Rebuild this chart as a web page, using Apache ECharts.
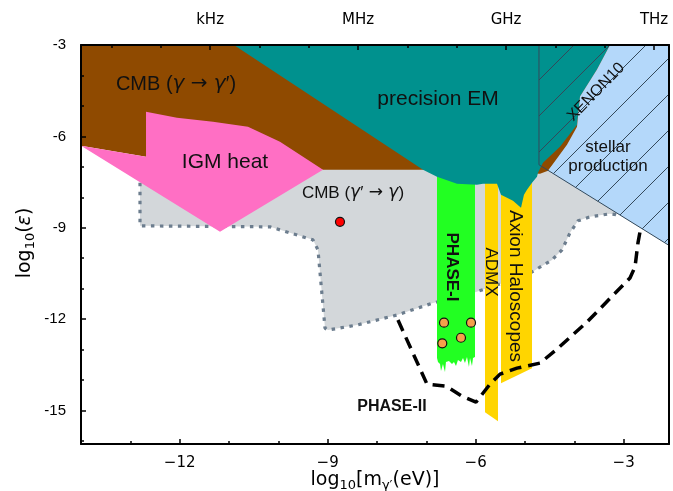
<!DOCTYPE html>
<html><head><meta charset="utf-8">
<script src="https://cdn.jsdelivr.net/npm/echarts@6/dist/echarts.min.js"></script>
<style>html,body{margin:0;padding:0;background:#fff}#c{width:673px;height:491px}</style>
</head><body><div id="c"></div>
<script>
// ---------- axes ----------
const X_RANGE = [-14, -2.08];
const Y_RANGE = [-16.1, -3];
const xMajorTicks = [-12, -9, -6, -3];
const xMinorTicks = [-13, -11, -10, -8, -7, -5, -4];
const yMajorTicks = [-3, -6, -9, -12, -15];
const yMinorTicks = [-4, -5, -7, -8, -10, -11, -13, -14, -16];
const freqTicks = [-11.383, -8.383, -5.383, -2.383];
const freqLabels = ['kHz', 'MHz', 'GHz', 'THz'];
const freqMinorTicks = [-13.383, -12.383, -10.383, -9.383, -7.383, -6.383, -4.383, -3.383];

// ---------- regions (log10 m [eV], log10 eps) ----------
const cmbDistortion = [[-14,-3],[-3.2,-3],[-3.45,-3.8],[-3.8,-4.7],[-3.88,-5.68],[-4.08,-6.27],[-4.533,-7.128],[-4.695,-7.227],[-7.067,-7.095],[-9.094,-7.095],[-12.682,-6.668],[-14,-6.306]];
const igmHeat = [[-14,-6.306],[-12.682,-6.668],[-12.682,-5.188],[-12.054,-5.385],[-11.324,-5.516],[-10.615,-5.681],[-9.966,-6.174],[-9.094,-7.095],[-11.182,-9.135]];
const precisionEM = [[-10.9,-3],[-3.276,-3],[-3.54,-3.806],[-3.884,-4.694],[-3.945,-5.615],[-4.290,-6.339],[-4.635,-6.865],[-4.736,-7.194],[-4.756,-7.326],[-4.857,-7.523],[-4.959,-7.753],[-5.020,-7.918],[-5.080,-8.345],[-5.243,-8.115],[-5.486,-7.918],[-5.567,-7.556],[-5.851,-7.556],[-5.973,-7.589],[-6.378,-7.556],[-6.783,-7.326],[-7.067,-7.095]];
const stellarProduction = [[-3.276,-3],[-2.08,-3],[-2.08,-9.58],[-4.533,-7.128],[-4.148,-6.273],[-3.945,-5.681],[-3.884,-4.694],[-3.54,-3.806]];
const xenon10 = [[-4.716,-3],[-2.08,-3],[-2.08,-9.58],[-4.716,-6.931]];
const cmbConversionEdge = [[-12.804,-7.523],[-12.804,-8.938],[-10.169,-8.970],[-9.297,-9.398],[-9.196,-9.727],[-9.054,-12.293],[-8.993,-12.359],[-8.405,-12.194],[-7.594,-11.865],[-6.864,-11.470],[-6.114,-11.174],[-5.506,-10.845],[-4.857,-10.451],[-4.452,-10.056],[-4.249,-9.727],[-4.087,-9.168],[-3.925,-8.773],[-3.682,-8.641],[-3.276,-8.543],[-3.134,-8.576]];
const cmbConversionTop = [[-3.134,-6.5],[-11.5,-6.5]];
const phase1Top = [[-6.783,-7.0],[-6.013,-7.0]];
const phase1Bottom = [[-6.783,-13.280],[-6.763,-13.411],[-6.722,-13.477],[-6.702,-13.707],[-6.662,-13.477],[-6.621,-13.740],[-6.601,-13.411],[-6.540,-13.378],[-6.479,-13.477],[-6.439,-13.411],[-6.398,-13.543],[-6.358,-13.345],[-6.297,-13.411],[-6.256,-13.280],[-6.216,-13.444],[-6.175,-13.246],[-6.135,-13.576],[-6.114,-13.280],[-6.074,-13.543],[-6.053,-13.280],[-6.013,-13.246]];
const admx = [[-5.810,-7.3],[-5.547,-7.3],[-5.547,-15.352],[-5.810,-15.056]];
const haloscopes = [[-5.486,-7.3],[-4.857,-7.3],[-4.857,-13.609],[-5.486,-14.102]];
const phase2Reach = [[-7.574,-12.030],[-6.986,-14.135],[-6.601,-14.201],[-6.276,-14.530],[-5.993,-14.727],[-5.709,-14.135],[-5.506,-13.806],[-5.161,-13.609],[-4.695,-13.444],[-4.351,-12.984],[-3.742,-12.095],[-2.871,-10.648],[-2.769,-10.286],[-2.709,-9.497],[-2.668,-9.135]];
const phase1Points = [[-6.641,-12.118],[-6.094,-12.118],[-6.297,-12.612],[-6.676,-12.796]];
const cmbPoint = [[-8.750,-8.806]];

// ---------- helpers ----------
function polySeries(name, pts, fill, z) {
  return {
    type: 'custom', name, z, silent: true, data: pts,
    renderItem(params, api) {
      if (params.dataIndex !== 0) return null;
      return { type: 'polygon', shape: { points: pts.map(p => api.coord(p)) }, style: { fill: fill } };
    }
  };
}
function hatchSeries(name, pts, z) {
  return {
    type: 'custom', name, z, silent: true, data: pts,
    renderItem(params, api) {
      if (params.dataIndex !== 0) return null;
      const P = pts.map(p => api.coord(p));
      const children = [];
      const sums = P.map(p => p[0] + p[1]);
      const lo = Math.min(...sums), hi = Math.max(...sums);
      const step = 36, phase = 835;
      let k = Math.ceil((lo - phase) / step);
      for (let c = phase + k * step; c < hi; c += step) {
        const hits = [];
        for (let i = 0; i < P.length; i++) {
          const a = P[i], b = P[(i + 1) % P.length];
          const fa = a[0] + a[1] - c, fb = b[0] + b[1] - c;
          if ((fa <= 0 && fb > 0) || (fa > 0 && fb <= 0)) {
            const t = fa / (fa - fb);
            hits.push([a[0] + t * (b[0] - a[0]), a[1] + t * (b[1] - a[1])]);
          }
        }
        if (hits.length >= 2) {
          hits.sort((u, v) => u[0] - v[0]);
          children.push({ type: 'line', shape: { x1: hits[0][0], y1: hits[0][1], x2: hits[hits.length-1][0], y2: hits[hits.length-1][1] }, style: { stroke: '#34495a', lineWidth: 1 } });
        }
      }
      children.push({ type: 'polyline', shape: { points: [P[0], P[3], P[2]] }, style: { stroke: '#34495a', lineWidth: 1, fill: null } });
      return { type: 'group', children };
    }
  };
}

const chart = echarts.init(document.getElementById('c'), null, { renderer: 'canvas' });
const tickLine = { color: '#000', width: 1.5 };
const baseX = { type: 'value', min: X_RANGE[0], max: X_RANGE[1], splitLine: { show: false }, z: 20 };
const baseY = { type: 'value', min: Y_RANGE[0], max: Y_RANGE[1], splitLine: { show: false }, z: 20 };
const none = { show: false };

const option = {
  animation: false,
  backgroundColor: '#fff',
  grid: { left: 81, right: 4, top: 45, bottom: 47 },
  xAxis: [
    Object.assign({}, baseX, { position: 'bottom',
      axisLine: { show: true, onZero: false, lineStyle: { color: '#000', width: 2 } },
      axisTick: { inside: true, length: 5, lineStyle: tickLine, customValues: xMajorTicks },
      axisLabel: { customValues: xMajorTicks, margin: 12, color: '#000', fontFamily: 'DejaVu Sans', fontSize: 15,
        formatter: v => (v < 0 ? '\u2212' : '') + Math.abs(Math.round(v)) } }),
    Object.assign({}, baseX, { position: 'bottom', axisLine: none,
      axisTick: { inside: true, length: 3, lineStyle: tickLine, customValues: xMinorTicks }, axisLabel: none }),
    Object.assign({}, baseX, { position: 'top',
      axisLine: { show: true, onZero: false, lineStyle: { color: '#000', width: 2 } },
      axisTick: { inside: true, length: 5, lineStyle: tickLine, customValues: freqTicks },
      axisLabel: { customValues: freqTicks, margin: 17, color: '#000', fontFamily: 'DejaVu Sans', fontSize: 15,
        formatter: v => { let bi = 0; freqTicks.forEach((t, i) => { if (Math.abs(t - v) < Math.abs(freqTicks[bi] - v)) bi = i; }); return freqLabels[bi]; } } }),
    Object.assign({}, baseX, { position: 'top', axisLine: none,
      axisTick: { inside: true, length: 3, lineStyle: tickLine, customValues: freqMinorTicks }, axisLabel: none })
  ],
  yAxis: [
    Object.assign({}, baseY, { position: 'left',
      axisLine: { show: true, onZero: false, lineStyle: { color: '#000', width: 2 } },
      axisTick: { inside: true, length: 5, lineStyle: tickLine, customValues: yMajorTicks },
      axisLabel: { customValues: yMajorTicks, margin: 15, color: '#000', fontFamily: 'Liberation Sans', fontSize: 15,
        formatter: v => String(Math.round(v)) } }),
    Object.assign({}, baseY, { position: 'left', axisLine: none,
      axisTick: { inside: true, length: 3, lineStyle: tickLine, customValues: yMinorTicks }, axisLabel: none }),
    Object.assign({}, baseY, { position: 'right',
      axisLine: { show: true, onZero: false, lineStyle: { color: '#000', width: 2 } },
      axisTick: none, axisLabel: none })
  ],
  series: [
    polySeries('CMB conversion', cmbConversionEdge.concat(cmbConversionTop), '#d3d7da', 1),
    { type: 'line', name: 'CMB conversion edge', z: 2, data: cmbConversionEdge, showSymbol: false, silent: true,
      lineStyle: { color: '#6c7d8e', width: 3.2, type: [3.5, 5.5] } },
    polySeries('CMB distortion', cmbDistortion, '#8f4a00', 3),
    polySeries('IGM heat', igmHeat, '#ff6fc4', 4),
    polySeries('PHASE-I', phase1Top.concat(phase1Bottom.slice().reverse()), '#22ff22', 5),
    polySeries('ADMX', admx, '#ffd500', 5),
    polySeries('Axion Haloscopes', haloscopes, '#ffd500', 5),
    polySeries('precision EM', precisionEM, '#00918e', 6),
    polySeries('stellar production', stellarProduction, '#b4d8fa', 7),
    hatchSeries('XENON10', xenon10, 8),
    { type: 'line', name: 'PHASE-II', z: 9, data: phase2Reach, showSymbol: false, silent: true,
      lineStyle: { color: '#000', width: 3.5, type: [12, 7] } },
    { type: 'scatter', name: 'PHASE-I points', z: 10, data: phase1Points, symbolSize: 9, silent: true,
      itemStyle: { color: '#f5a04a', borderColor: '#111', borderWidth: 1.2, opacity: 1 } },
    { type: 'scatter', name: 'CMB point', z: 10, data: cmbPoint, symbolSize: 9, silent: true,
      itemStyle: { color: '#ff0000', borderColor: '#111', borderWidth: 1.2, opacity: 1 } }
  ],
  graphic: []
};

const G = (x, y, text, font, extra) => Object.assign({ type: 'text', x, y, z: 100, silent: true,
  style: Object.assign({ text, font, fill: '#111', align: 'center', verticalAlign: 'middle' }, extra && extra.style || {}) },
  extra && extra.rotation !== undefined ? { rotation: extra.rotation } : {});
const richG = size => ({ i: { fontStyle: 'italic', fontFamily: 'DejaVu Sans', fontSize: size },
                         a: { fontFamily: 'DejaVu Sans', fontSize: size } });
option.graphic = [
  G(176, 84, 'CMB ({i|\u03b3}{a| \u2192 }{i|\u03b3}\u2032)', '20px "Liberation Sans"', { style: { rich: richG(20) } }),
  G(225, 162, 'IGM heat', '21px "Liberation Sans"'),
  G(438, 99, 'precision EM', '21px "Liberation Sans"'),
  G(353, 193, 'CMB ({i|\u03b3}\u2032{a| \u2192 }{i|\u03b3})', '17px "Liberation Sans"', { style: { rich: richG(17) } }),
  G(596, 92, 'XENON10', '16px "Liberation Sans"', { rotation: 0.80 }),
  G(608, 157, 'stellar\nproduction', '17px "Liberation Sans"', { style: { lineHeight: 19 } }),
  G(452, 267, 'PHASE-I', 'bold 17px "Liberation Sans"', { rotation: -Math.PI / 2 }),
  G(491, 272, 'ADMX', '17px "Liberation Sans"', { rotation: -Math.PI / 2 }),
  G(515, 286, 'Axion Haloscopes', '19px "Liberation Sans"', { rotation: -Math.PI / 2 }),
  G(392, 407, 'PHASE-II', 'bold 16px "Liberation Sans"'),
  G(375, 480, 'log{s|10}[m{s|\u03b3\u2032}(eV)]', '19px "DejaVu Sans"', { style: { fill: '#000', rich: { s: { fontSize: 13, fontFamily: 'DejaVu Sans', padding: [11, 0, 0, 0] } } } }),
  G(25, 243, 'log{s|10}({i|\u03b5})', '19px "DejaVu Sans"', { rotation: Math.PI / 2, style: { fill: '#000', rich: { s: { fontSize: 13, fontFamily: 'DejaVu Sans', padding: [11, 0, 0, 0] }, i: { fontStyle: 'italic', fontSize: 19, fontFamily: 'DejaVu Sans' } } } })
];
chart.setOption(option);
</script></body></html>
